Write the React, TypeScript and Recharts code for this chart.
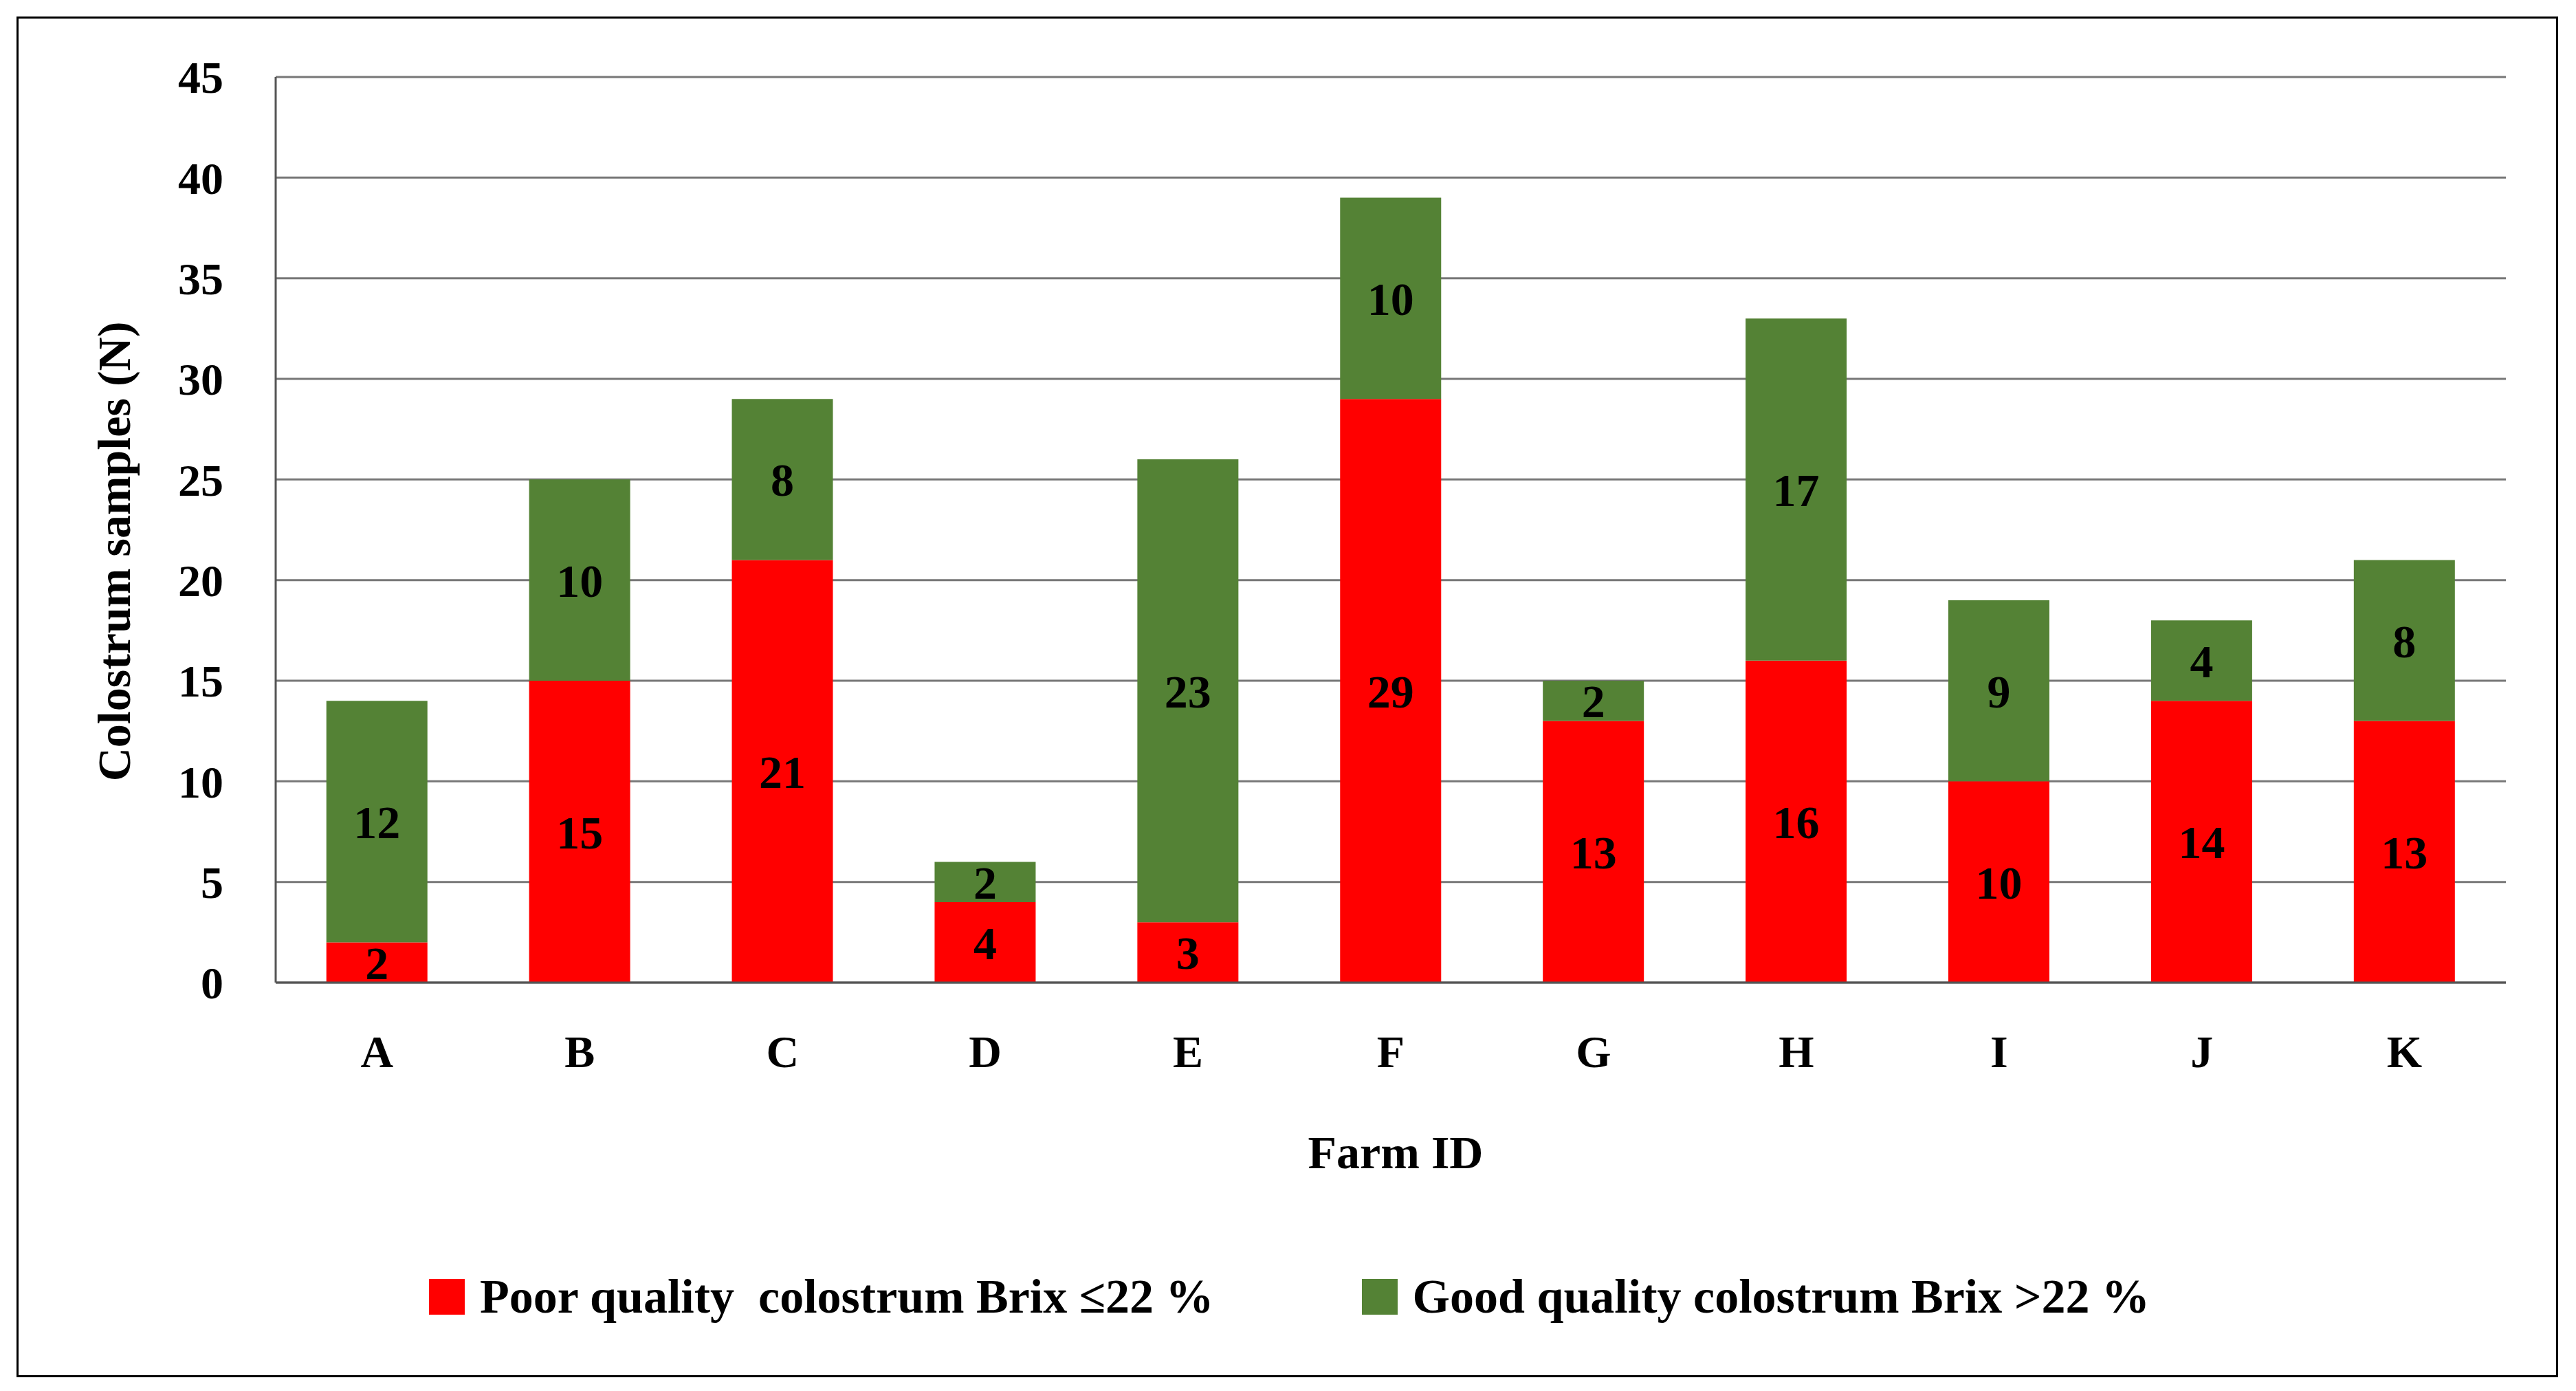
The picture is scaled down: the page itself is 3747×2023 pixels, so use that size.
import { BarChart, Bar, XAxis, YAxis, CartesianGrid, LabelList } from 'recharts';

const farms = ['A', 'B', 'C', 'D', 'E', 'F', 'G', 'H', 'I', 'J', 'K'];
const poor = [2, 15, 21, 4, 3, 29, 13, 16, 10, 14, 13];
const good = [12, 10, 8, 2, 23, 10, 2, 17, 9, 4, 8];
const yTicks = [0, 5, 10, 15, 20, 25, 30, 35, 40, 45];

const data = farms.map((f, i) => ({ farm: f, poor: poor[i], good: good[i] }));

const FONT = '"Liberation Serif", "DejaVu Serif", serif';
const RED = '#ff0000';
const GREEN = '#548235';
const W = 3697;
const H = 1979;

export default function App() {
  const tick = { fill: '#000', fontSize: 66, fontWeight: 700, fontFamily: FONT };
  const label = { fill: '#000', fontSize: 68, fontWeight: 700, fontFamily: FONT };
  return (
    <div style={{ position: 'relative', width: 3731, height: 2007 }}>
      <div
        style={{
          position: 'absolute',
          left: 16,
          top: 16,
          width: W,
          height: H,
          border: '3px solid #000',
          boxSizing: 'border-box',
          fontFamily: FONT,
        }}
      >
        <BarChart
          width={W - 6}
          height={H - 6}
          data={data}
          barCategoryGap="25%"
          margin={{ top: 85, right: 73, left: 40, bottom: 251 }}
        >
          <CartesianGrid stroke="#777" strokeWidth={3} vertical={false} />
          <XAxis
            dataKey="farm"
            height={320}
            tick={tick}
            tickLine={false}
            tickMargin={70}
            axisLine={{ stroke: '#555', strokeWidth: 3 }}
          />
          <YAxis
            width={334}
            domain={[0, 45]}
            ticks={yTicks}
            tick={tick}
            tickLine={false}
            tickMargin={70}
            axisLine={{ stroke: '#555', strokeWidth: 3 }}
          />
          <Bar dataKey="poor" stackId="s" fill={RED} isAnimationActive={false}>
            <LabelList dataKey="poor" position="center" style={label} />
          </Bar>
          <Bar dataKey="good" stackId="s" fill={GREEN} isAnimationActive={false}>
            <LabelList dataKey="good" position="center" style={label} />
          </Bar>
        </BarChart>
        <div
          style={{
            position: 'absolute',
            left: 139,
            top: 775,
            transform: 'translate(-50%, -50%) rotate(-90deg)',
            whiteSpace: 'nowrap',
            fontSize: 68,
            fontWeight: 700,
          }}
        >
          Colostrum samples (N)
        </div>
        <div
          style={{
            position: 'absolute',
            left: 2003,
            top: 1649,
            transform: 'translate(-50%, -50%)',
            fontSize: 68,
            fontWeight: 700,
          }}
        >
          Farm ID
        </div>
        <div
          style={{
            position: 'absolute',
            left: 0,
            width: W,
            top: 1859,
            transform: 'translateY(-50%)',
            display: 'flex',
            justifyContent: 'center',
            gap: 215,
            fontSize: 70,
            fontWeight: 700,
          }}
        >
          {[
            { c: RED, t: 'Poor quality  colostrum Brix ≤22 %' },
            { c: GREEN, t: 'Good quality colostrum Brix >22 %' },
          ].map((l) => (
            <div key={l.t} style={{ display: 'flex', alignItems: 'center', gap: 22 }}>
              <div style={{ width: 52, height: 52, background: l.c }} />
              <span style={{ whiteSpace: 'pre' }}>{l.t}</span>
            </div>
          ))}
        </div>
      </div>
    </div>
  );
}
